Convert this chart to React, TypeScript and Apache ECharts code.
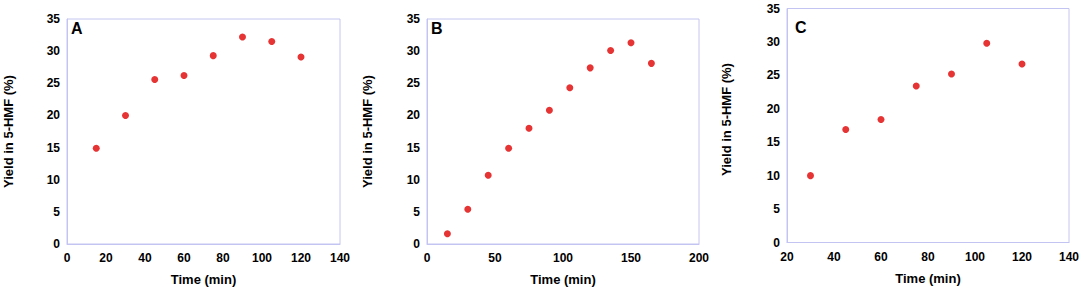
import React, { useEffect, useRef } from "react";
import * as echarts from "echarts";

const timeA = [15, 30, 45, 60, 75, 90, 105, 120];
const yieldA = [14.9, 20.0, 25.6, 26.2, 29.3, 32.2, 31.5, 29.1];
const timeB = [15, 30, 45, 60, 75, 90, 105, 120, 135, 150, 165];
const yieldB = [1.6, 5.4, 10.7, 14.9, 18.0, 20.8, 24.3, 27.4, 30.1, 31.3, 28.1];
const timeC = [30, 45, 60, 75, 90, 105, 120];
const yieldC = [10.0, 16.9, 18.4, 23.4, 25.2, 29.8, 26.7];
const panelLetters = ["A", "B", "C"];
const xRanges = [
  { min: 0, max: 140, interval: 20 },
  { min: 0, max: 200, interval: 50 },
  { min: 20, max: 140, interval: 20 },
];
const yRange = { min: 0, max: 35, interval: 5 };
const xTitle = "Time (min)";
const yTitle = "Yield in 5-HMF (%)";

const FONT = "'Liberation Sans', Arial, sans-serif";
const BORDER = "#c4c4f2";
const DOT = "#e00000";

const grids = [
  { left: 67, top: 19, width: 273, height: 226 },
  { left: 427, top: 19, width: 272, height: 226 },
  { left: 787, top: 8.5, width: 282, height: 234 },
];
const yNameGaps = [52, 53, 54];
const yNamePads = [
  [0, 0, 0, 0],
  [0, 0, 0, 0],
  [0, 0, 0, 12],
];

export default function App() {
  const ref = useRef<HTMLDivElement>(null);
  useEffect(() => {
    if (!ref.current) return;
    const chart = echarts.init(ref.current, undefined, { renderer: "svg" });
    const series = [
      [timeA, yieldA],
      [timeB, yieldB],
      [timeC, yieldC],
    ];
    chart.setOption({
      animation: false,
      grid: grids.map((g) => ({
        ...g,
        show: true,
        borderColor: BORDER,
        borderWidth: 1,
        backgroundColor: "transparent",
      })),
      xAxis: xRanges.map((r, i) => ({
        type: "value",
        gridIndex: i,
        min: r.min,
        max: r.max,
        interval: r.interval,
        name: xTitle,
        nameLocation: "middle",
        nameGap: 29,
        nameTextStyle: { fontFamily: FONT, fontWeight: "bold", fontSize: 13, color: "#000" },
        axisLine: { show: true, lineStyle: { color: BORDER } },
        axisTick: { show: false },
        splitLine: { show: false },
        axisLabel: { fontFamily: FONT, fontWeight: "bold", fontSize: 12, color: "#000", margin: 8 },
      })),
      yAxis: grids.map((_, i) => ({
        type: "value",
        gridIndex: i,
        min: yRange.min,
        max: yRange.max,
        interval: yRange.interval,
        name: yTitle,
        nameLocation: "middle",
        nameGap: yNameGaps[i],
        nameTextStyle: {
          fontFamily: FONT,
          fontWeight: "bold",
          fontSize: 13,
          color: "#000",
          padding: yNamePads[i],
        },
        axisLine: { show: true, lineStyle: { color: BORDER } },
        axisTick: { show: false },
        splitLine: { show: false },
        axisLabel: { fontFamily: FONT, fontWeight: "bold", fontSize: 12, color: "#000", margin: 7 },
      })),
      series: series.map(([xs, ys], i) => ({
        type: "scatter",
        xAxisIndex: i,
        yAxisIndex: i,
        symbol: "circle",
        symbolSize: 7,
        itemStyle: { color: DOT },
        data: xs.map((x, j) => [x, ys[j]]),
      })),
      graphic: panelLetters.map((t, i) => ({
        type: "text",
        left: grids[i].left + (i === 2 ? 8 : 4),
        top: grids[i].top + (i === 2 ? 11 : 1),
        style: { text: t, fontFamily: FONT, fontWeight: "bold", fontSize: 16, fill: "#000" },
      })),
    });
    return () => chart.dispose();
  }, []);
  return (
    <div
      ref={ref}
      style={{ position: "fixed", left: 0, top: 0, width: 1084, height: 291, background: "#fff" }}
    />
  );
}
